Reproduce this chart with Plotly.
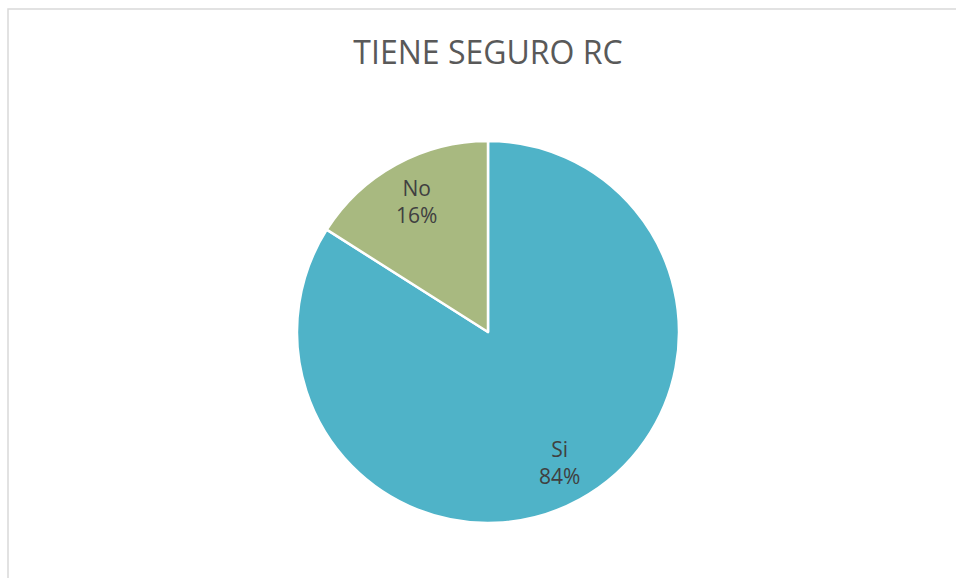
import math
import plotly.graph_objects as go

title = "TIENE SEGURO RC"
labels = ["Si", "No"]
values = [84, 16]
colors = ["#4FB3C8", "#A8B980"]

W, H = 956, 578
cx, cy, r = 488, 332, 191
label_radius = 0.78

fig = go.Figure(go.Pie(
    labels=labels,
    values=values,
    sort=False,
    direction="clockwise",
    rotation=0,
    marker=dict(colors=colors, line=dict(color="white", width=2.5)),
    textinfo="none",
    hoverinfo="label+percent",
    domain=dict(x=[(cx - r) / W, (cx + r) / W], y=[1 - (cy + r) / H, 1 - (cy - r) / H]),
))

# data labels placed along each slice's mid angle
total = sum(values)
annotations = []
cum = 0
for lab, v in zip(labels, values):
    mid = (cum + v / 2) / total * 2 * math.pi
    cum += v
    d = label_radius * r
    px = cx + d * math.sin(mid)
    py = cy - d * math.cos(mid)
    annotations.append(dict(
        text=f"{lab}<br>{round(100 * v / total)}%",
        x=px / W, y=1 - py / H, xref="paper", yref="paper",
        xanchor="center", yanchor="middle", showarrow=False, align="center",
        font=dict(family="Open Sans", size=21, color="#404040"),
    ))

fig.update_layout(
    width=W, height=H,
    margin=dict(l=0, r=0, t=0, b=0),
    paper_bgcolor="white",
    showlegend=False,
    annotations=annotations,
    title=dict(text=title, x=488 / W, xanchor="center", y=1 - 53 / H, yanchor="middle",
               font=dict(family="Open Sans", size=32, color="#595959")),
    shapes=[dict(type="rect", xref="paper", yref="paper",
                 x0=8 / W, x1=1.05, y0=-0.05, y1=1 - 9 / H,
                 line=dict(color="#D9D9D9", width=1.5), fillcolor="rgba(0,0,0,0)")],
)

fig.write_html("out.html", config={"displayModeBar": False},
               post_script="document.body.style.margin='0';document.body.style.overflow='hidden';")
